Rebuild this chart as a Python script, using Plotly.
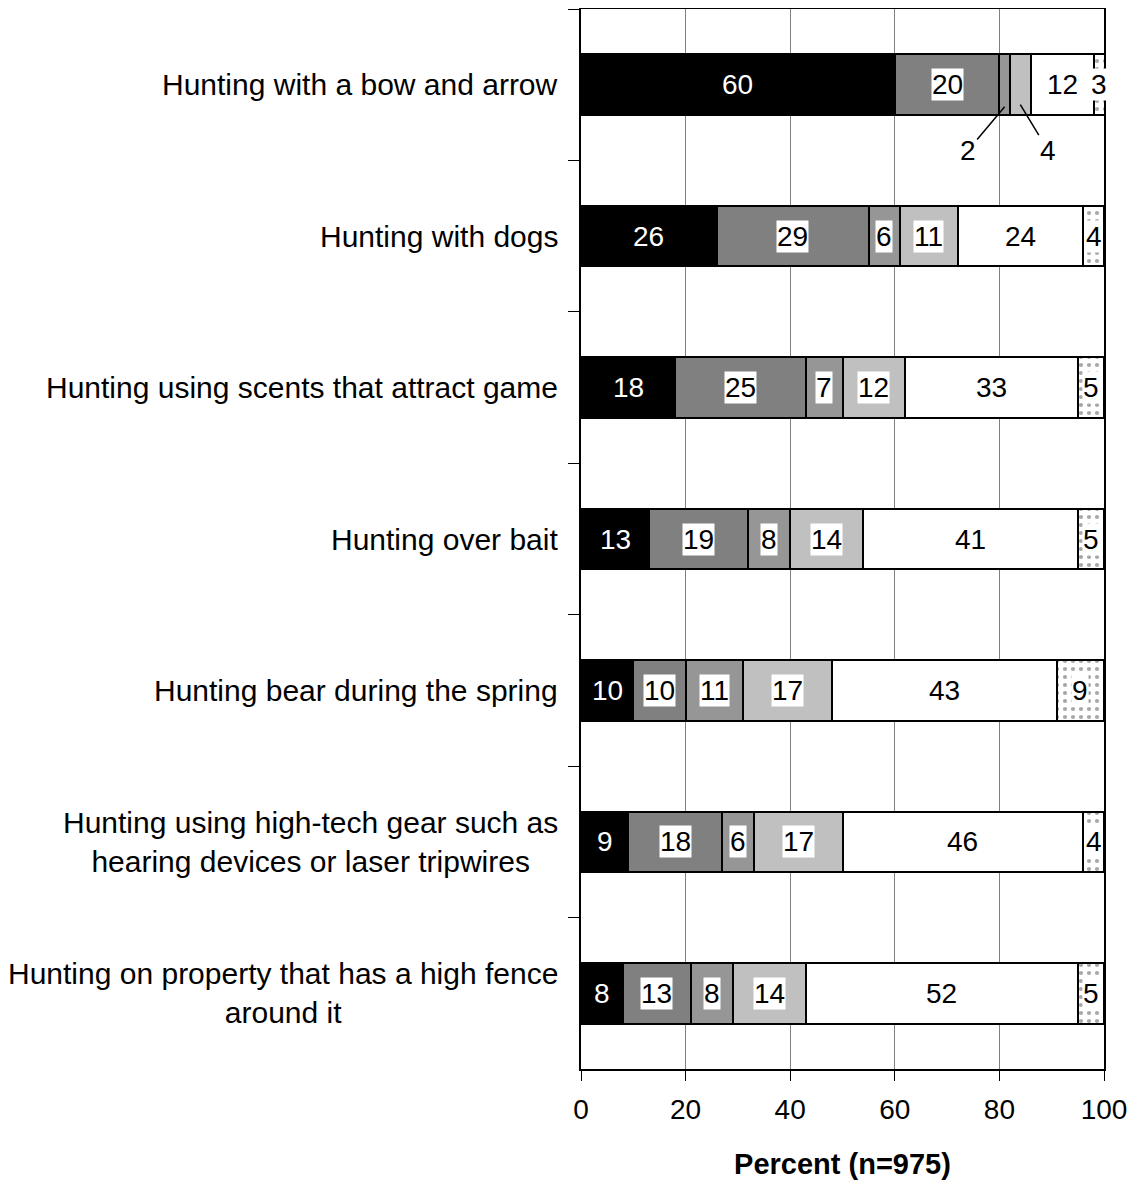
import plotly.graph_objects as go

categories = [
    "Hunting with a bow and arrow",
    "Hunting with dogs",
    "Hunting using scents that attract game",
    "Hunting over bait",
    "Hunting bear during the spring",
    "Hunting using high-tech gear such as<br>hearing devices or laser tripwires",
    "Hunting on property that has a high fence<br>around it",
]
seg1 = [60, 26, 18, 13, 10, 9, 8]
seg2 = [20, 29, 25, 19, 10, 18, 13]
seg3 = [2, 6, 7, 8, 11, 6, 8]
seg4 = [4, 11, 12, 14, 17, 17, 14]
seg5 = [12, 24, 33, 41, 43, 46, 52]
seg6 = [3, 4, 5, 5, 9, 4, 5]
x_ticks = [0, 20, 40, 60, 80, 100]

series = [seg1, seg2, seg3, seg4, seg5, seg6]
fills = ["#000000", "#808080", "#969696", "#c0c0c0", "#ffffff", "#ffffff"]
FONT = "Liberation Sans, Arial, sans-serif"
VAL_SIZE = 28

fig = go.Figure()
for i, (vals, col) in enumerate(zip(series, fills)):
    marker = dict(color=col, line=dict(color="#000000", width=2))
    if i == 5:
        marker["pattern"] = dict(shape=".", fgcolor="#505050", bgcolor="#ffffff",
                                 size=8, solidity=0.22)
    fig.add_trace(go.Bar(y=categories, x=vals, orientation="h", marker=marker,
                         showlegend=False, hoverinfo="skip"))

annotations = []
for ci, cat in enumerate(categories):
    start = 0
    for si, vals in enumerate(series):
        v = vals[ci]
        end = start + v
        mid = (start + min(end, 100)) / 2
        if ci == 0 and si in (2, 3):
            if si == 2:
                annotations.append(dict(x=mid, y=cat, yshift=-22, text=str(v),
                                        showarrow=True, arrowhead=0, arrowwidth=1.5,
                                        arrowcolor="#000", ax=-37, ay=44,
                                        font=dict(family=FONT, size=VAL_SIZE, color="#000")))
            else:
                annotations.append(dict(x=mid, y=cat, yshift=-20, text=str(v),
                                        showarrow=True, arrowhead=0, arrowwidth=1.5,
                                        arrowcolor="#000", ax=28, ay=46,
                                        font=dict(family=FONT, size=VAL_SIZE, color="#000")))
        else:
            annotations.append(dict(
                x=mid, y=cat, text=str(v), showarrow=False,
                font=dict(family=FONT, size=VAL_SIZE,
                          color="#ffffff" if si == 0 else "#000000"),
                bgcolor=None if si in (0, 4) else "#ffffff", borderpad=0,
            ))
        start = end

for cat in categories:
    annotations.append(dict(x=0, xref="paper", y=cat, yref="y", xanchor="right",
                            xshift=-21, text=cat, showarrow=False, align="center",
                            font=dict(family=FONT, size=30, color="#000")))

n = len(categories)
fig.update_layout(
    barmode="stack",
    bargap=0.6,
    width=1129, height=1172,
    margin=dict(l=573, r=33, t=1, b=111, autoexpand=False),
    plot_bgcolor="#ffffff", paper_bgcolor="#ffffff",
    font=dict(family=FONT, size=28, color="#000"),
    annotations=annotations,
)
fig.update_xaxes(
    range=[0, 100], tickvals=x_ticks, ticks="outside", ticklen=10, tickcolor="#000",
    tickwidth=1, showline=True, linecolor="#000", linewidth=2, mirror=True,
    showgrid=True, gridcolor="#808080", gridwidth=1, zeroline=False, automargin=False,
    tickfont=dict(family=FONT, size=28), ticklabelstandoff=4,
    title=dict(text="<b>Percent (n=975)</b>", font=dict(family=FONT, size=29), standoff=30),
)
fig.update_yaxes(
    range=[n - 0.5, -0.5], autorange=False, tickson="boundaries", ticks="outside",
    ticklen=11, tickcolor="#000", showticklabels=False, showline=True, linecolor="#000",
    linewidth=2, mirror=True, showgrid=False, zeroline=False, automargin=False,
)
fig.write_html("out.html")
